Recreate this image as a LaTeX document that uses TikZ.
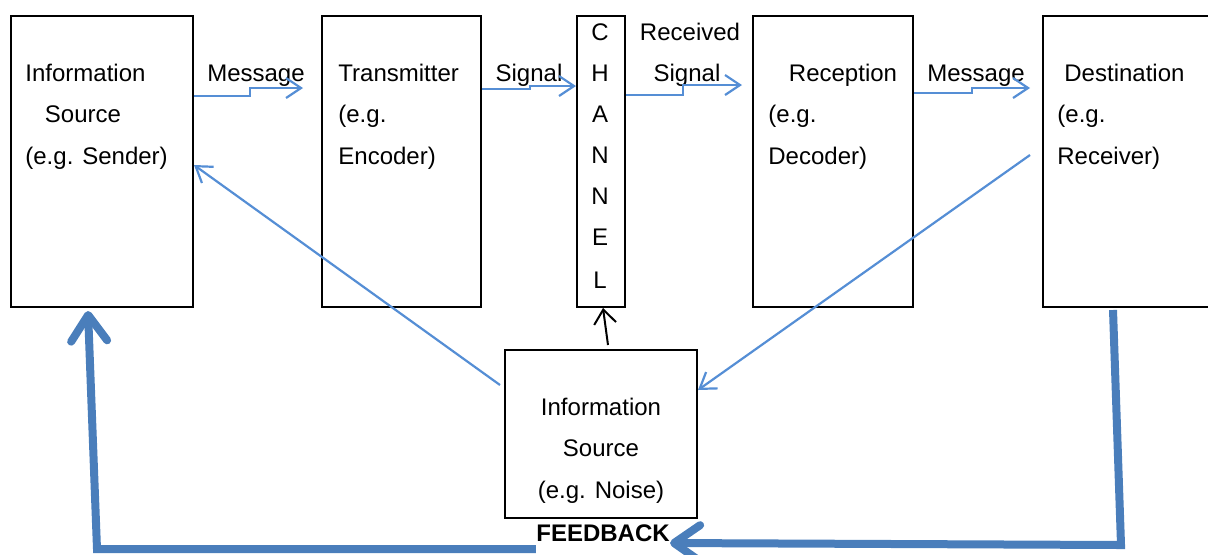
\documentclass[tikz,border=0pt]{standalone}
\usepackage{fontspec}
\setmainfont{Liberation Sans}
\usetikzlibrary{arrows.meta}
\definecolor{lineblue}{RGB}{85,142,213}
\definecolor{thickblue}{RGB}{74,126,187}
\begin{document}
\begin{tikzpicture}[x=0.5pt,y=-0.5pt,
  box/.style={draw=black,line width=1pt,minimum height=145.5pt,inner sep=0pt},
  lbl/.style={inner sep=0pt,font=\fontsize{12}{14}\selectfont,text height=8.6pt,text depth=0pt},
  flow/.style={draw=lineblue,line width=1.1pt,-{Straight Barb[length=7.5pt,width=10pt]}},
  thick/.style={draw=thickblue,line width=4pt},
  thicktip/.style={-{Straight Barb[length=13pt,width=18pt,round]}}]
\useasboundingbox (0,0) rectangle (1208,554);
% boxes
\node[box,minimum width=91pt] (src) at (102,161.5) {};
\node[box,minimum width=79.5pt] (tx) at (401.5,161.5) {};
\node[box,minimum width=24pt] (ch) at (601,161.5) {};
\node[box,minimum width=80pt] (rx) at (833,161.5) {};
\node[box,minimum width=100pt] (dst) at (1143,161.5) {};
\node[box,minimum width=96pt,minimum height=84pt] (noise) at (601,434) {};
% box texts
\node[lbl,anchor=west] (s1) at (25,73) {Information};
\node[lbl] (s2) at (83,114) {Source};
\node[lbl,anchor=west] (s3) at (25,156) {(e.g. Sender)};
\node[lbl,anchor=west] (t1) at (338,73) {Transmitter};
\node[lbl,anchor=west] (t2) at (338,114) {(e.g.};
\node[lbl,anchor=west] (t3) at (338,156) {Encoder)};
\foreach \l/\yy [count=\i] in {C/32,H/73,A/114,N/155,N/196,E/237,L/280}
  \node[lbl] (c\i) at (600,\yy) {\l};
\node[lbl] (r1) at (843,73) {Reception};
\node[lbl,anchor=west] (r2) at (768,114) {(e.g.};
\node[lbl,anchor=west] (r3) at (768,156) {Decoder)};
\node[lbl,anchor=west] (d1) at (1064,73) {Destination};
\node[lbl,anchor=west] (d2) at (1057,114) {(e.g.};
\node[lbl,anchor=west] (d3) at (1057,156) {Receiver)};
\node[lbl] (n1) at (601,407) {Information};
\node[lbl] (n2) at (601,448) {Source};
\node[lbl] (n3) at (601,490) {(e.g. Noise)};
% arrow labels
\node[lbl] (m1) at (256,73) {Message};
\node[lbl] (sg) at (529,73) {Signal};
\node[lbl] (rs1) at (690,32) {Received};
\node[lbl] (rs2) at (687,73) {Signal};
\node[lbl] (m2) at (976,73) {Message};
\node[lbl,font=\fontsize{12}{14}\selectfont\bfseries] (fb) at (603,533) {FEEDBACK};
% stepped flow arrows
\draw[flow] (src.east |- 0,96) -- (250,96) -- (250,88) -- (303,88);
\draw[flow] (tx.east |- 0,89) -- (530,89) -- (530,86) -- (576,86);
\draw[flow] (ch.east |- 0,95) -- (683,95) -- (683,85) -- (742,85);
\draw[flow] (rx.east |- 0,93) -- (972,93) -- (972,88) -- (1030,88);
% noise arrows
\draw[flow] (500,385) -- (src.east |- 0,165);
\draw[flow] (1030,155) -- (noise.east |- 0,390);
\draw[black,line width=1pt,-{Straight Barb[length=7pt,width=11pt]}] (608,345) -- (ch.south -| 603,0);
% feedback
\draw[thick,thicktip] (1113,310) -- (1121,545) -- (fb.east |- 0,543);
\draw[thick,thicktip] (fb.west |- 0,549) -- (97,549) -- (88,311);
\end{tikzpicture}
\end{document}
